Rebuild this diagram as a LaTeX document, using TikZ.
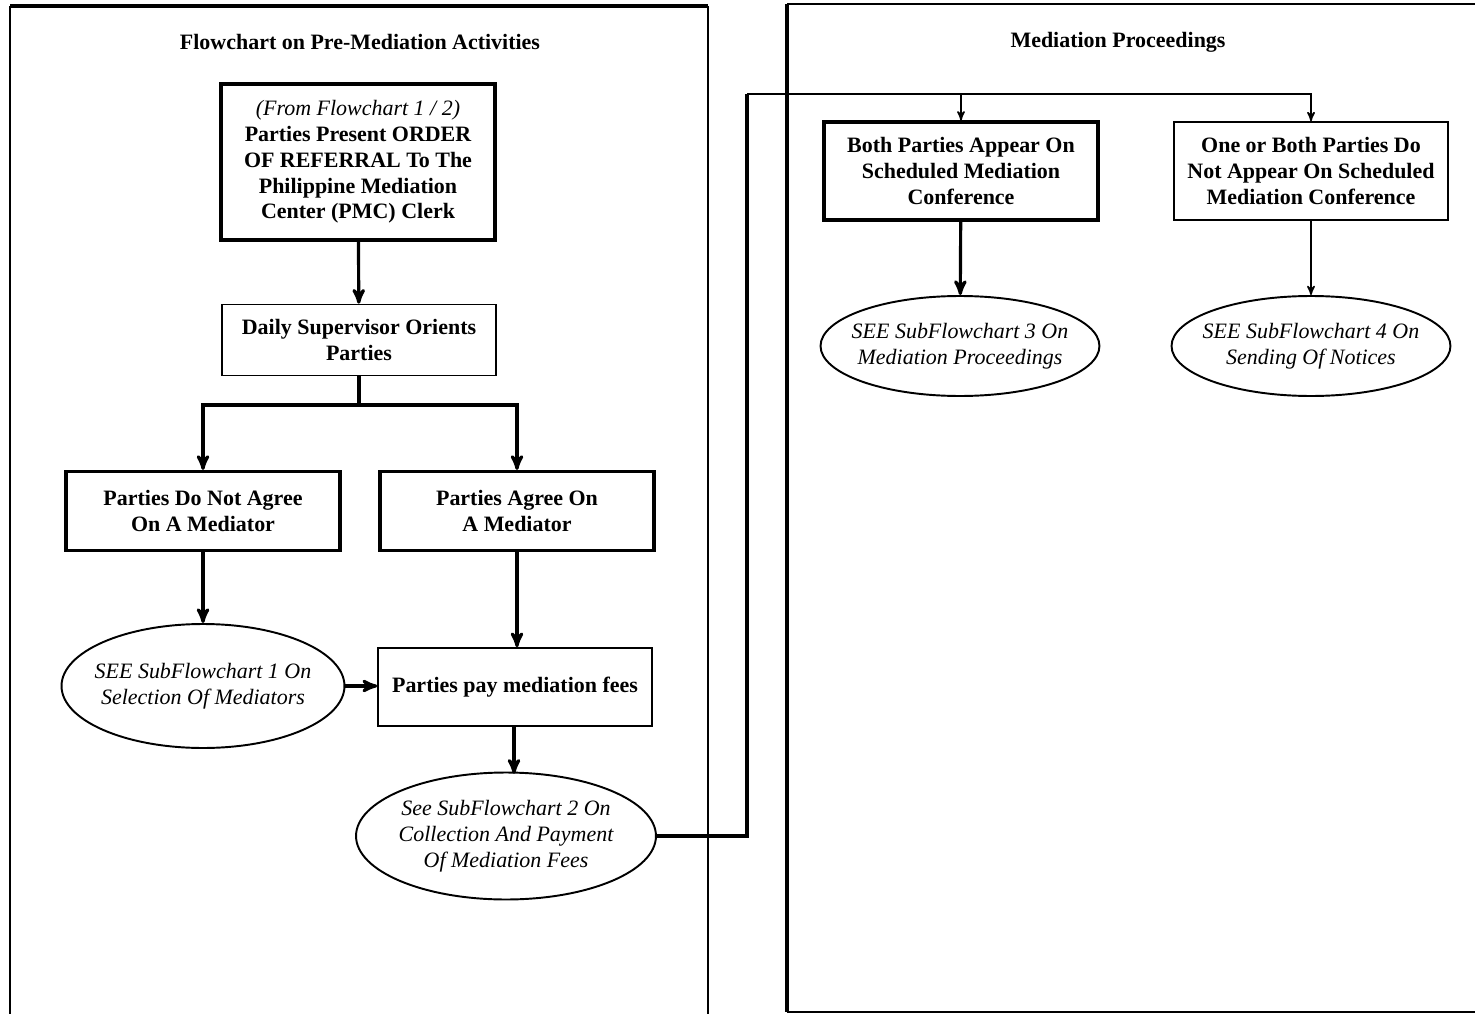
\documentclass[tikz,border=0pt]{standalone}
\usepackage{fontspec}
\setmainfont{Liberation Serif}
\usepackage{tikz}
\usetikzlibrary{arrows,shapes.geometric}

\begin{document}
\begin{tikzpicture}[x=0.02cm,y=-0.02cm,>=stealth',shorten >=0pt,
                    font=\fontsize{12.5}{14.7}\selectfont]
  \tikzstyle{every node}=[align=center]
  \tikzstyle{task}=[draw,rectangle,minimum width=5.48cm,inner sep=2pt,
                    font=\fontsize{12.5}{14.7}\selectfont\bfseries]
  \tikzstyle{hard}=[line width=1.8pt]
  \tikzstyle{soft}=[line width=0.9pt]
  \tikzstyle{seeref}=[draw,ellipse,inner xsep=-5.5pt,inner ysep=0pt,line width=1.1pt,
                      font=\fontsize{12.5}{14.7}\selectfont\itshape]
  \tikzstyle{flow}=[->,line width=1.8pt]
  \tikzstyle{link}=[->,line width=0.9pt]

  \useasboundingbox (0,0) rectangle (1475,1014);

  % the two panels
  \draw[soft] (10,1020) -- (10,6) (708,6) -- (708,1020);
  \draw[hard] (10,6) -- (708,6);
  \draw[soft] (787,4) -- (1480,4) (787,1012) -- (1480,1012);
  \draw[hard] (787,4) -- (787,1012);

  \node[font=\fontsize{12.5}{14.7}\selectfont\bfseries] (leftttl)  at (360,42)  {Flowchart on Pre-Mediation Activities};
  \node[font=\fontsize{12.5}{14.7}\selectfont\bfseries] (rightttl) at (1118,42) {Mediation Proceedings};

  % pre-mediation
  \node[task,hard,minimum height=3.12cm] (referral) at (358,162)
    {{\normalfont\itshape (From Flowchart 1 / 2)}\\Parties Present ORDER\\OF REFERRAL To The\\Philippine Mediation\\Center (PMC) Clerk};
  \node[task,soft,minimum height=1.42cm] (orient)   at (359,340) {Daily Supervisor Orients\\Parties};
  \node[task,hard,minimum height=1.58cm] (noagree)  at (203,511) {Parties Do Not Agree\\On A Mediator};
  \node[task,hard,minimum height=1.58cm] (agree)    at (517,511) {Parties Agree On\\A Mediator};
  \node[task,soft,minimum height=1.56cm] (pay)      at (515,687) {Parties pay mediation fees};
  \node[seeref,minimum width=5.66cm,minimum height=2.48cm] (sub1) at (203,686)
    {SEE SubFlowchart 1 On\\Selection Of Mediators};
  \node[seeref,minimum width=6.0cm,minimum height=2.54cm]  (sub2) at (506,836)
    {See SubFlowchart 2 On\\Collection And Payment\\Of Mediation Fees};

  % mediation proceedings
  \node[task,hard,minimum height=1.96cm] (appear)   at (961,171)  {Both Parties Appear On\\Scheduled Mediation\\Conference};
  \node[task,soft,minimum height=1.96cm] (noappear) at (1311,171) {One or Both Parties Do\\Not Appear On Scheduled\\Mediation Conference};
  \node[seeref,minimum width=5.52cm,minimum height=2.0cm] (sub3) at (960,346)
    {SEE SubFlowchart 3 On\\Mediation Proceedings};
  \node[seeref,minimum width=5.56cm,minimum height=2.0cm] (sub4) at (1311,346)
    {SEE SubFlowchart 4 On\\Sending Of Notices};

  \coordinate (split) at (359,405);
  \coordinate (jump)  at (747,94);

  \draw[flow] (referral) -- (orient);
  \draw[hard] (orient) -- (split);
  \draw[flow] (split) -| (noagree.north);
  \draw[flow] (split) -| (agree.north);
  \draw[flow] (noagree.south) -- (sub1.north);
  \draw[flow] (agree.south) -- (pay.north -| agree.south);
  \draw[flow] (sub1.east) -- (pay.west |- sub1.east);
  \draw[flow] (pay.south -| sub2.north) ++(8,0) -- ++(0,47);
  \draw[hard] (sub2.east) -| (jump);
  \draw[link] (jump) -| (noappear.north);
  \draw[link] (jump -| appear.north) -- (appear.north);
  \draw[flow] (appear) -- (sub3);
  \draw[link] (noappear) -- (sub4);
\end{tikzpicture}
\end{document}
